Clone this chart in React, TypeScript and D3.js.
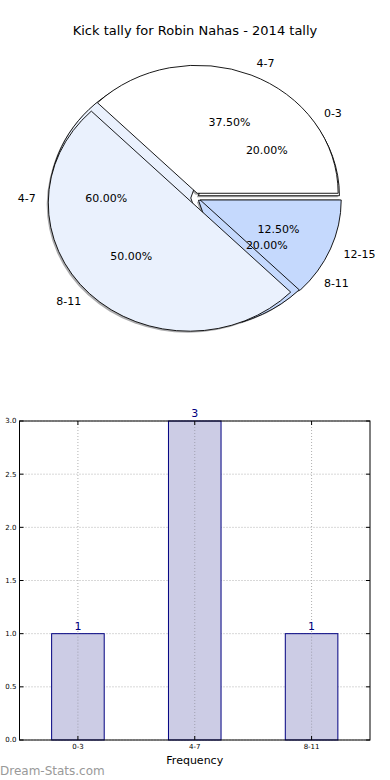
import React from "react";
import * as d3 from "d3";

const title = "Kick tally for Robin Nahas - 2014 tally";
// Pie A (drawn underneath)
const pieALabels = ["0-3", "4-7", "8-11"];
const pieAValues = [1, 3, 1];
// Pie B (drawn on top)
const pieBLabels = ["4-7", "8-11", "12-15"];
const pieBValues = [3, 4, 1];
const pieColors = ["#ffffff", "#eaf1fd", "#c5d9fd"];

const barCategories = ["0-3", "4-7", "8-11"];
const barValues = [1, 3, 1];
const yTicks = [0, 0.5, 1, 1.5, 2, 2.5, 3];
const xLabel = "Frequency";
const watermark = "Dream-Stats.com";

const FONT = "DejaVu Sans, sans-serif";

type PieSpec = { labels: string[]; values: number[]; explode: number };

function pieData(spec: PieSpec) {
  const total = d3.sum(spec.values);
  const gen = d3
    .pie<number>()
    .sort(null)
    .startAngle(Math.PI / 2)
    .endAngle(Math.PI / 2 - 2 * Math.PI);
  return gen(spec.values).map((a, i) => ({
    arc: a,
    label: spec.labels[i],
    pct: ((spec.values[i] / total) * 100).toFixed(2) + "%",
    color: pieColors[i % pieColors.length],
    mid: (a.startAngle + a.endAngle) / 2,
  }));
}

export default function App() {
  const W = 390;
  const H = 780;
  const cx = 195;
  const cy = 198;
  const rx = 141;
  const ry = 128;
  const arcGen = d3.arc<any>().innerRadius(0).outerRadius(1);

  const pies: PieSpec[] = [
    { labels: pieALabels, values: pieAValues, explode: 0.03 },
    { labels: pieBLabels, values: pieBValues, explode: 0.04 },
  ];
  const allData = pies.map((p) => ({ spec: p, data: pieData(p) }));

  const offset = (mid: number, f: number) => [
    Math.sin(mid) * f * rx,
    -Math.cos(mid) * f * ry,
  ];

  // Bar chart
  const left = 19.5;
  const right = 370;
  const top = 421;
  const bottom = 740;
  const x = d3.scaleLinear().domain([-0.5, 2.5]).range([left, right]);
  const y = d3.scaleLinear().domain([0, 3]).range([bottom, top]);
  const barW = 0.45;

  return (
    <svg width={W} height={H} style={{ position: "absolute", left: 0, top: 0, background: "#fff" }} fontFamily={FONT}>
      <rect x={0} y={0} width={W} height={H} fill="#fff" />
      <text x={W / 2} y={35} textAnchor="middle" fontSize={13} fill="#000">
        {title}
      </text>

      {/* shadows */}
      {allData.map((pd, pi) =>
        pd.data.map((d, i) => {
          const [ox, oy] = offset(d.mid, pd.spec.explode);
          const c = d3.color(d.color)!.rgb();
          const fill = `rgb(${c.r * 0.3},${c.g * 0.3},${c.b * 0.3})`;
          return (
            <path
              key={`s${pi}-${i}`}
              d={arcGen(d.arc) || ""}
              transform={`translate(${cx + ox - 1.6},${cy + oy + 1.6}) scale(${rx},${ry})`}
              fill={fill}
              fillOpacity={0.45}
              stroke="none"
            />
          );
        })
      )}
      {/* wedges */}
      {allData.map((pd, pi) =>
        pd.data.map((d, i) => {
          const [ox, oy] = offset(d.mid, pd.spec.explode);
          return (
            <path
              key={`w${pi}-${i}`}
              d={arcGen(d.arc) || ""}
              transform={`translate(${cx + ox},${cy + oy}) scale(${rx},${ry})`}
              fill={d.color}
              stroke="#000"
              strokeWidth={0.9}
              vectorEffect="non-scaling-stroke"
              strokeLinejoin="miter"
            />
          );
        })
      )}
      {/* labels */}
      {allData.map((pd, pi) =>
        pd.data.map((d, i) => {
          const [ox, oy] = offset(d.mid, pd.spec.explode);
          const sx = Math.sin(d.mid);
          const sy = -Math.cos(d.mid);
          const lx = cx + ox + 1.1 * rx * sx;
          const ly = cy + oy + 1.1 * ry * sy;
          const px = cx + ox + 0.6 * rx * sx;
          const py = cy + oy + 0.6 * ry * sy;
          return (
            <g key={`l${pi}-${i}`} fontSize={11} fill="#000">
              <text x={lx} y={ly} dy="0.35em" textAnchor={sx > 0 ? "start" : "end"}>
                {d.label}
              </text>
              <text x={px} y={py} dy="0.35em" textAnchor="middle">
                {d.pct}
              </text>
            </g>
          );
        })
      )}

      {/* Bar chart */}
      {yTicks.map((t) => (
        <g key={`yt${t}`}>
          <line x1={left} x2={right} y1={y(t)} y2={y(t)} stroke="#b0b0b0" strokeDasharray="1,2" />
          <line x1={left} x2={left + 4} y1={y(t)} y2={y(t)} stroke="#000" />
          <line x1={right} x2={right - 4} y1={y(t)} y2={y(t)} stroke="#000" />
          <text x={left - 3} y={y(t)} dy="0.35em" textAnchor="end" fontSize={7} fill="#000">
            {t.toFixed(1)}
          </text>
        </g>
      ))}
      {barCategories.map((c, i) => (
        <g key={`xt${c}`}>
          <line x1={x(i)} x2={x(i)} y1={top} y2={bottom} stroke="#b0b0b0" strokeDasharray="1,2" />
        </g>
      ))}
      {barCategories.map((c, i) => (
        <g key={`b${c}`}>
          <rect
            x={x(i - barW / 2)}
            y={y(barValues[i])}
            width={x(barW) - x(0)}
            height={y(0) - y(barValues[i])}
            fill="#ccccE5"
            stroke="#000080"
            strokeWidth={1}
          />
          <line x1={x(i)} x2={x(i)} y1={y(barValues[i])} y2={bottom} stroke="#a0a0b0" strokeDasharray="1,2" />
          <text x={x(i)} y={y(barValues[i]) - 4} textAnchor="middle" fontSize={11} fill="#000080">
            {barValues[i]}
          </text>
          <line x1={x(i)} x2={x(i)} y1={bottom} y2={bottom - 4} stroke="#000" />
          <line x1={x(i)} x2={x(i)} y1={top} y2={top + 4} stroke="#000" />
          <text x={x(i)} y={bottom + 9} textAnchor="middle" fontSize={7} fill="#000">
            {c}
          </text>
        </g>
      ))}
      <rect x={left} y={top} width={right - left} height={bottom - top} fill="none" stroke="#000" strokeWidth={1} />
      <text x={(left + right) / 2} y={764} textAnchor="middle" fontSize={11} fill="#000">
        {xLabel}
      </text>
      <text x={0} y={775} fontSize={12} fill="#999999">
        {watermark}
      </text>
    </svg>
  );
}
